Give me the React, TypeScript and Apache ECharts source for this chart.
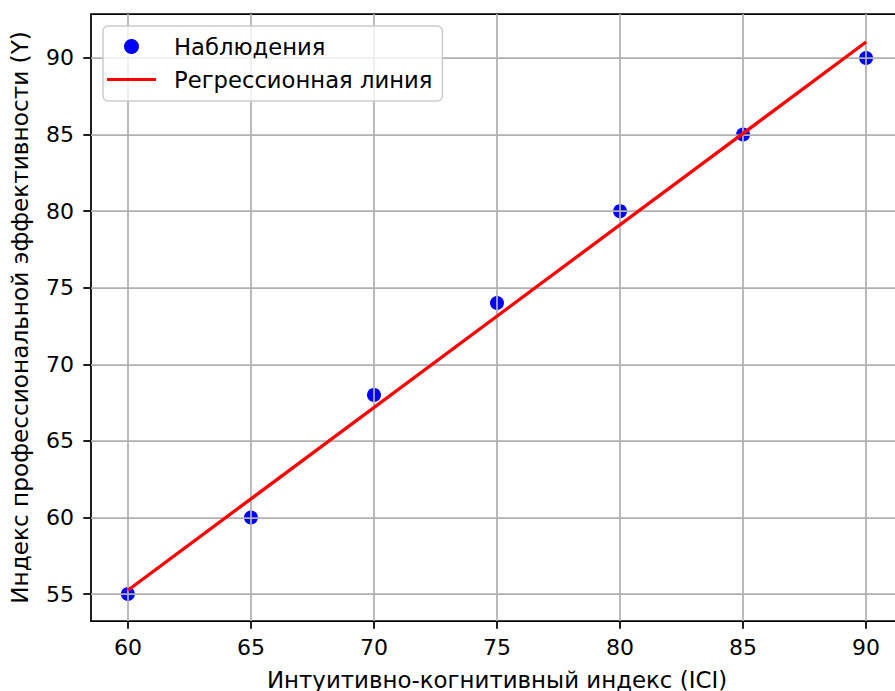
import React, { useEffect, useRef } from "react";
import * as echarts from "echarts";

const iciValues = [60, 65, 70, 75, 80, 85, 90];
const efficiencyValues = [55, 60, 68, 74, 80, 85, 90];
const regressionX = [60, 90];
const regressionY = [55.25, 91.04];
const xTicks = [60, 65, 70, 75, 80, 85, 90];
const yTicks = [55, 60, 65, 70, 75, 80, 85, 90];

const FONT = "DejaVu Sans";
const FS = 22;

export default function App() {
  const ref = useRef<HTMLDivElement>(null);
  useEffect(() => {
    if (!ref.current) return;
    const chart = echarts.init(ref.current, null, { renderer: "svg" });
    const axisCommon = {
      z: 2,
      axisLine: { show: false },
      axisTick: { show: true, length: 7.7, lineStyle: { color: "#000", width: 1.75 } },
      splitLine: { show: true, lineStyle: { color: "#b0b0b0", width: 1.75 } },
    };
    chart.setOption({
      animation: false,
      backgroundColor: "#fff",
      grid: {
        left: 91,
        top: 14,
        right: 9,
        bottom: 70,
        containLabel: false,
        outerBoundsMode: "none",
        show: true,
        borderColor: "#000",
        borderWidth: 1.75,
        backgroundColor: "transparent",
      },
      legend: {
        orient: "vertical",
        left: 103,
        top: 26,
        padding: [9, 10, 10, 4],
        itemGap: 10,
        itemWidth: 49,
        itemHeight: 15,
        backgroundColor: "rgba(255,255,255,0.8)",
        borderColor: "#cccccc",
        borderWidth: 1.5,
        borderRadius: 5,
        textStyle: { fontFamily: FONT, fontSize: 22.7, color: "#000", padding: [0, 0, 0, 13] },
        data: [
          { name: "Наблюдения", icon: "circle" },
          { name: "Регрессионная линия", icon: "path://M0,0 M0,6 L49,6 L49,9 L0,9 Z M49,15" },
        ],
      },
      xAxis: {
        ...axisCommon,
        type: "value",
        min: 58.5,
        max: 91.5,
        name: "Интуитивно-когнитивный индекс (ICI)",
        nameLocation: "middle",
        nameGap: 47,
        nameTextStyle: { fontFamily: FONT, fontSize: 22.9, color: "#000" },
        axisTick: { ...axisCommon.axisTick, customValues: xTicks },
        axisLabel: {
          customValues: xTicks,
          fontFamily: FONT,
          fontSize: FS,
          color: "#000",
          margin: 15,
        },
      },
      yAxis: {
        ...axisCommon,
        type: "value",
        min: 53.24,
        max: 92.87,
        name: "Индекс профессиональной эффективности (Y)",
        nameLocation: "middle",
        nameGap: 60,
        nameTextStyle: { fontFamily: FONT, fontSize: 23.2, color: "#000" },
        axisTick: { ...axisCommon.axisTick, customValues: yTicks },
        axisLabel: {
          customValues: yTicks,
          fontFamily: FONT,
          fontSize: FS,
          color: "#000",
          margin: 17,
        },
      },
      series: [
        {
          name: "Наблюдения",
          type: "scatter",
          z: 1,
          symbol: "circle",
          symbolSize: 14,
          itemStyle: { color: "#0000ff", opacity: 1 },
          data: iciValues.map((x, i) => [x, efficiencyValues[i]]),
        },
        {
          name: "Регрессионная линия",
          type: "line",
          z: 3,
          symbol: "none",
          lineStyle: { color: "#ff0000", width: 3.3 },
          itemStyle: { color: "#ff0000" },
          data: regressionX.map((x, i) => [x, regressionY[i]]),
        },
      ],
    });
    return () => chart.dispose();
  }, []);
  return (
    <div
      style={{ position: "absolute", left: 0, top: 0, width: 895, height: 691, overflow: "hidden" }}
    >
      <div ref={ref} style={{ width: 912, height: 691 }} />
    </div>
  );
}
